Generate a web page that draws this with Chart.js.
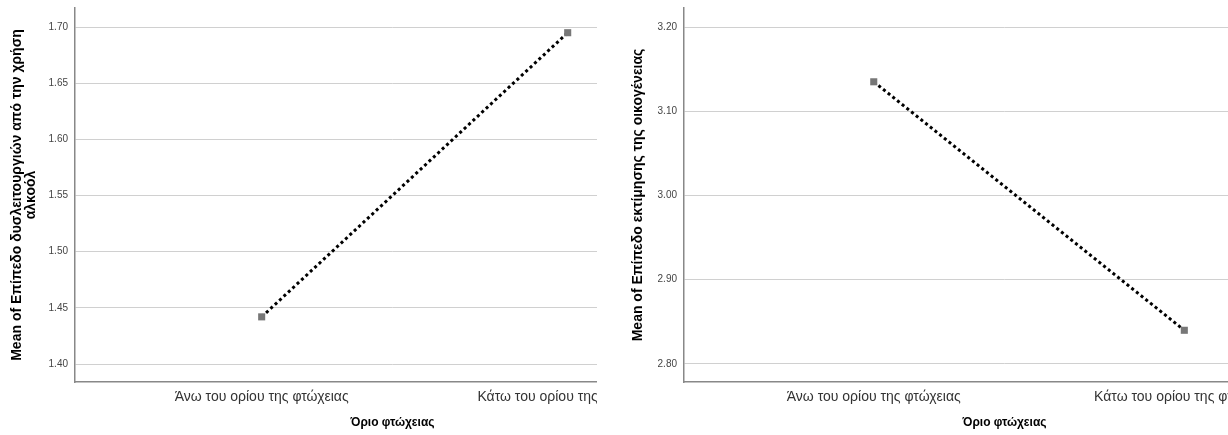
<!DOCTYPE html>
<html>
<head>
<meta charset="utf-8">
<script src="https://cdn.jsdelivr.net/npm/chart.js@4"></script>
<style>
  body { margin: 0; background: #fff; }
  .panel { position: absolute; top: 0; height: 435px; overflow: hidden; }
  #leftPanel  { left: 0;     width: 597px; }
  #rightPanel { left: 597px; width: 631px; }
</style>
</head>
<body>
<div class="panel" id="leftPanel"><canvas id="alcoholChart" width="715" height="435"></canvas></div>
<div class="panel" id="rightPanel"><canvas id="familyChart" width="733" height="435"></canvas></div>
<script>
// ── Data ──────────────────────────────────────────────────────
const categories = ['Άνω του ορίου της φτώχειας', 'Κάτω του ορίου της φτώχειας'];

const alcoholMeans = [1.442, 1.695];
const alcoholTicks = [1.40, 1.45, 1.50, 1.55, 1.60, 1.65, 1.70];

const familyMeans = [3.135, 2.840];
const familyTicks = [2.80, 2.90, 3.00, 3.10, 3.20];

const xTitle = 'Όριο φτώχειας';

Chart.defaults.font.family = '"Liberation Sans", Arial, sans-serif';
Chart.defaults.animation = false;

// ── Helper: one SPSS style means plot ─────────────────────────
function makeChart(id, means, yTicks, opts) {
  return new Chart(document.getElementById(id), {
    type: 'line',
    data: {
      datasets: [{
        data: means.map((v, i) => ({ x: i, y: v })),
        borderColor: '#000',
        borderWidth: 3,
        borderDash: [3, 3],
        fill: false,
        tension: 0,
        pointStyle: 'rect',
        pointRadius: 5,
        pointBackgroundColor: '#777',
        pointBorderWidth: 0
      }]
    },
    options: {
      responsive: false,
      layout: { padding: { top: 8, right: 0, bottom: 0, left: 0 } },
      plugins: { legend: { display: false }, tooltip: { enabled: false } },
      scales: {
        x: {
          type: 'linear',
          min: opts.xMin,
          max: opts.xMax,
          afterBuildTicks: s => { s.ticks = categories.map((c, i) => ({ value: i })); },
          afterFit: s => { s.height = 53; s.paddingLeft = 0; s.paddingRight = 0; },
          grid: { display: false, drawTicks: false },
          border: { color: '#888', width: 1.5 },
          ticks: {
            autoSkip: false,
            maxRotation: 0,
            padding: 7,
            color: '#333',
            font: { size: 14 },
            callback: (v, i) => categories[i]
          },
          title: {
            display: true,
            text: xTitle,
            color: '#000',
            font: { size: 12, weight: 'bold' },
            padding: { top: 0, bottom: 5 }
          }
        },
        y: {
          min: opts.yMin,
          max: opts.yMax,
          afterBuildTicks: s => { s.ticks = yTicks.map(v => ({ value: v })); },
          afterFit: s => { s.width = opts.yWidth; s.paddingTop = 0; s.paddingBottom = 0; },
          grid: { color: '#d0d0d0', drawTicks: false },
          border: { color: '#888', width: 1.5 },
          ticks: {
            padding: 7,
            color: '#444',
            font: { size: 10 },
            callback: v => v.toFixed(2)
          },
          title: {
            display: true,
            text: opts.yTitle,
            color: '#000',
            font: { size: 14, weight: 'bold', lineHeight: 1.0 },
            padding: { top: opts.yTitlePad, bottom: 0 }
          }
        }
      }
    }
  });
}

// ── Charts ────────────────────────────────────────────────────
makeChart('alcoholChart', alcoholMeans, alcoholTicks, {
  xMin: -0.61, xMax: 1.465,
  yMin: 1.384, yMax: 1.717,
  yWidth: 75,
  yTitle: ['Mean of Επίπεδο δυσλειτουργιών από την χρήση', 'αλκοόλ'],
  yTitlePad: 10
});

makeChart('familyChart', familyMeans, familyTicks, {
  xMin: -0.611, xMax: 1.453,
  yMin: 2.7786, yMax: 3.2226,
  yWidth: 87,
  yTitle: 'Mean of Επίπεδο εκτίμησης της οικογένειας',
  yTitlePad: 34
});
</script>
</body>
</html>
